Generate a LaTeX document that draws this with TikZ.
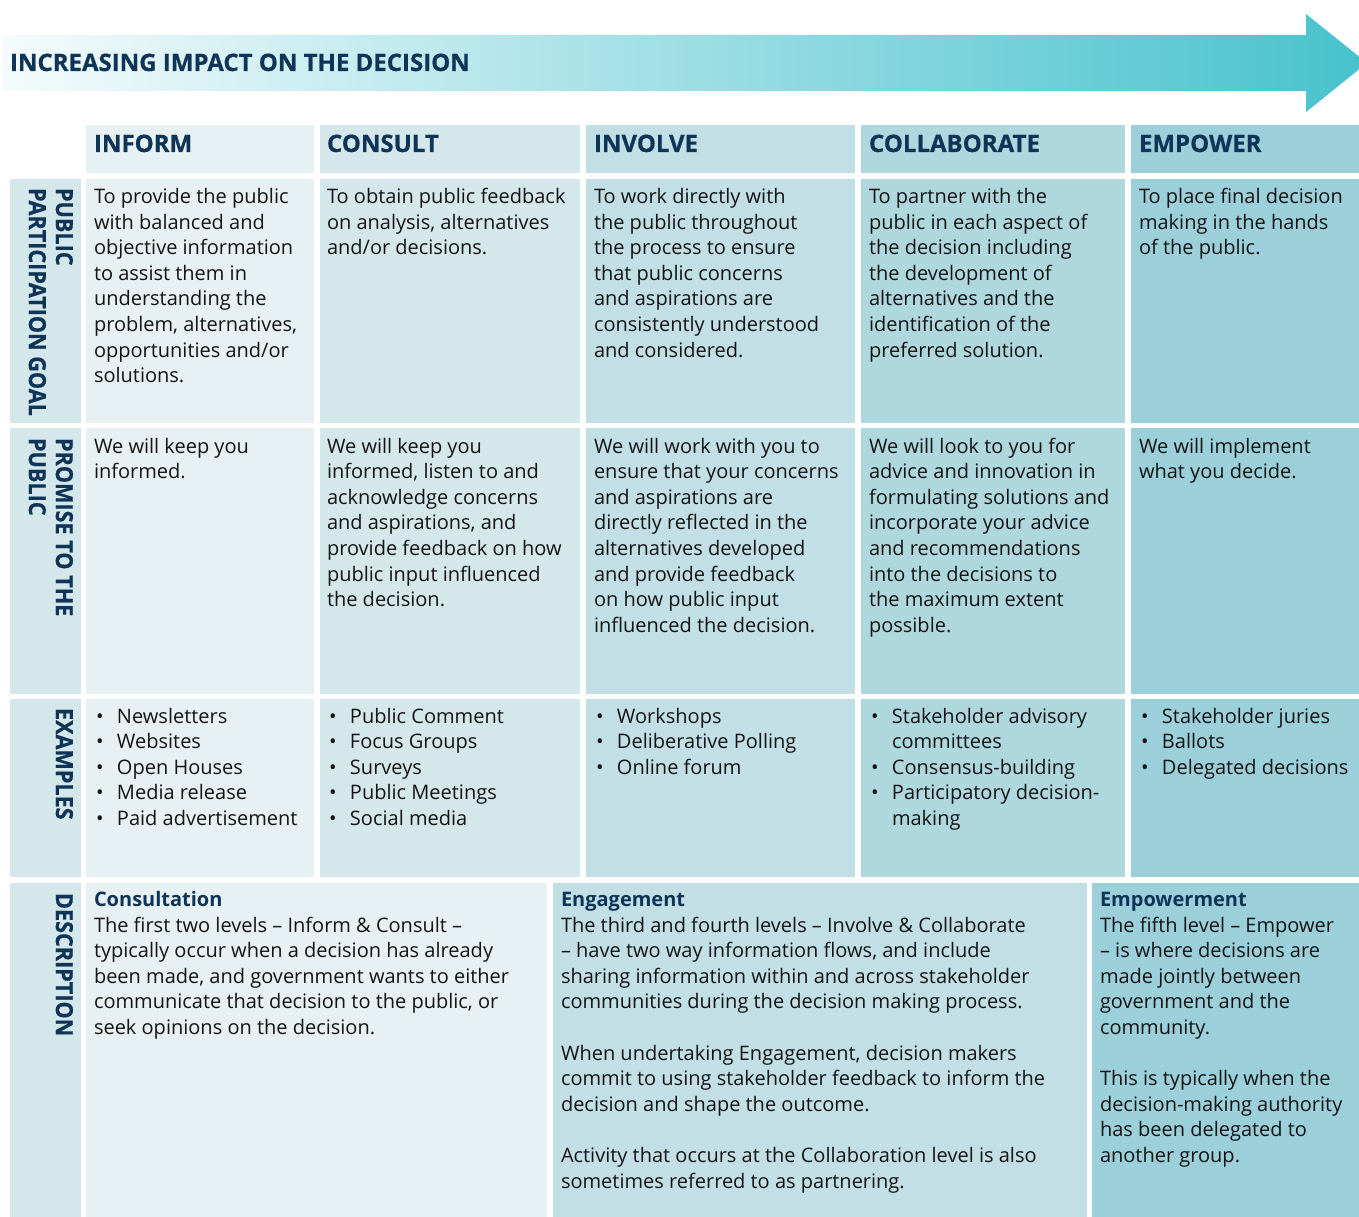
\documentclass[tikz,border=0pt]{standalone}
\usepackage{fontspec}
\setmainfont{Open Sans}
\newfontfamily\hdfont{Open Sans}[BoldFeatures={FakeBold=0.6}]
\newfontfamily\labfont{Open Sans}[FakeStretch=0.92, BoldFeatures={FakeBold=0.6}]
\definecolor{navy}{HTML}{0E3457}
\definecolor{bodyc}{HTML}{141414}
\definecolor{cA}{HTML}{E7F1F3}
\definecolor{cB}{HTML}{D4E7EB}
\definecolor{cC}{HTML}{C2DFE5}
\definecolor{cD}{HTML}{AFD7DE}
\definecolor{cE}{HTML}{9BCFD9}
\definecolor{arrL}{HTML}{F4FBFC}
\definecolor{arrR}{HTML}{47C2CD}
\newcommand\celltext[1]{\parbox[t]{500pt}{\raggedright #1}}
\newcommand\bitem[1]{\makebox[23pt][l]{\hspace{2pt}•}#1}
\newcommand\bcont[1]{\hspace*{23pt}#1}
\tikzset{
  cellbox/.style={draw=none, inner sep=0, outer sep=0, anchor=north west},
  txt/.style={anchor=base west, inner sep=0, outer sep=0, text=bodyc,
    font=\fontsize{20}{25.6}\selectfont},
  hd/.style={anchor=base west, inner sep=0, outer sep=0, text=navy,
    font=\hdfont\bfseries\fontsize{24}{27}\selectfont},
  lab/.style={rotate=-90, anchor=north west, align=left, inner sep=0, outer sep=0,
    text=navy, font=\labfont\bfseries\fontsize{23.5}{27}\selectfont},
}
\begin{document}
\begin{tikzpicture}[x=1pt,y=-1pt]
\useasboundingbox (0,0) rectangle (1359,1217);
\fill[white] (0,0) rectangle (1359,1217);
% arrow
\shade[left color=arrL, right color=arrR] (3,35) -- (1306,35) -- (1306,14) -- (1367,63)
  -- (1306,112) -- (1306,91) -- (3,91) -- cycle;
\node[hd, font=\hdfont\bfseries\fontsize{24}{30}\selectfont] (title) at (10,71) {INCREASING IMPACT ON THE DECISION};

% header row
\node[cellbox, fill=cA, minimum width=228, minimum height=48] (hA) at (86,125) {};
\node[cellbox, fill=cB, minimum width=260, minimum height=48] (hB) at (320,125) {};
\node[cellbox, fill=cC, minimum width=269, minimum height=48] (hC) at (586,125) {};
\node[cellbox, fill=cD, minimum width=264, minimum height=48] (hD) at (861,125) {};
\node[cellbox, fill=cE, minimum width=228, minimum height=48] (hE) at (1131,125) {};
\node[hd] (tA) at (94,152) {INFORM};
\node[hd] (tB) at (327,152) {CONSULT};
\node[hd] (tC) at (594,152) {INVOLVE};
\node[hd] (tD) at (869,152) {COLLABORATE};
\node[hd] (tE) at (1139,152) {EMPOWER};

% goal row
\node[cellbox, fill=cB, minimum width=71, minimum height=244] (gL) at (10,179) {};
\node[cellbox, fill=cA, minimum width=228, minimum height=244] (gA) at (86,179) {};
\node[cellbox, fill=cB, minimum width=260, minimum height=244] (gB) at (320,179) {};
\node[cellbox, fill=cC, minimum width=269, minimum height=244] (gC) at (586,179) {};
\node[cellbox, fill=cD, minimum width=264, minimum height=244] (gD) at (861,179) {};
\node[cellbox, fill=cE, minimum width=228, minimum height=244] (gE) at (1131,179) {};
\node[lab] (lG) at (73,188) {PUBLIC\\PARTICIPATION GOAL};
\node[txt] (gtA) at (94,203.5) {\celltext{To provide the public\\with balanced and\\objective information\\to assist them in\\understanding the\\problem, alternatives,\\opportunities and/or\\solutions.}};
\node[txt] (gtB) at (327,203.5) {\celltext{To obtain public feedback\\on analysis, alternatives\\and/or decisions.}};
\node[txt] (gtC) at (594,203.5) {\celltext{To work directly with\\the public throughout\\the process to ensure\\that public concerns\\and aspirations are\\consistently understood\\and considered.}};
\node[txt] (gtD) at (869,203.5) {\celltext{To partner with the\\public in each aspect of\\the decision including\\the development of\\alternatives and the\\identification of the\\preferred solution.}};
\node[txt] (gtE) at (1139,203.5) {\celltext{To place final decision\\making in the hands\\of the public.}};

% promise row
\node[cellbox, fill=cB, minimum width=71, minimum height=266] (pL) at (10,428) {};
\node[cellbox, fill=cA, minimum width=228, minimum height=266] (pA) at (86,428) {};
\node[cellbox, fill=cB, minimum width=260, minimum height=266] (pB) at (320,428) {};
\node[cellbox, fill=cC, minimum width=269, minimum height=266] (pC) at (586,428) {};
\node[cellbox, fill=cD, minimum width=264, minimum height=266] (pD) at (861,428) {};
\node[cellbox, fill=cE, minimum width=228, minimum height=266] (pE) at (1131,428) {};
\node[lab] (lP) at (73,438) {PROMISE TO THE\\PUBLIC};
\node[txt] (ptA) at (94,453) {\celltext{We will keep you\\informed.}};
\node[txt] (ptB) at (327,453) {\celltext{We will keep you\\informed, listen to and\\acknowledge concerns\\and aspirations, and\\provide feedback on how\\public input influenced\\the decision.}};
\node[txt] (ptC) at (594,453) {\celltext{We will work with you to\\ensure that your concerns\\and aspirations are\\directly reflected in the\\alternatives developed\\and provide feedback\\on how public input\\influenced the decision.}};
\node[txt] (ptD) at (869,453) {\celltext{We will look to you for\\advice and innovation in\\formulating solutions and\\incorporate your advice\\and recommendations\\into the decisions to\\the maximum extent\\possible.}};
\node[txt] (ptE) at (1139,453) {\celltext{We will implement\\what you decide.}};

% examples row
\node[cellbox, fill=cB, minimum width=71, minimum height=178] (eL) at (10,699) {};
\node[cellbox, fill=cA, minimum width=228, minimum height=178] (eA) at (86,699) {};
\node[cellbox, fill=cB, minimum width=260, minimum height=178] (eB) at (320,699) {};
\node[cellbox, fill=cC, minimum width=269, minimum height=178] (eC) at (586,699) {};
\node[cellbox, fill=cD, minimum width=264, minimum height=178] (eD) at (861,699) {};
\node[cellbox, fill=cE, minimum width=228, minimum height=178] (eE) at (1131,699) {};
\node[lab] (lE) at (73,708) {EXAMPLES};
\node[txt] (etA) at (94,723) {\celltext{\bitem{Newsletters}\\\bitem{Websites}\\\bitem{Open Houses}\\\bitem{Media release}\\\bitem{Paid advertisement}}};
\node[txt] (etB) at (327,723) {\celltext{\bitem{Public Comment}\\\bitem{Focus Groups}\\\bitem{Surveys}\\\bitem{Public Meetings}\\\bitem{Social media}}};
\node[txt] (etC) at (594,723) {\celltext{\bitem{Workshops}\\\bitem{Deliberative Polling}\\\bitem{Online forum}}};
\node[txt] (etD) at (869,723) {\celltext{\bitem{Stakeholder advisory}\\\bcont{committees}\\\bitem{Consensus-building}\\\bitem{Participatory decision-}\\\bcont{making}}};
\node[txt] (etE) at (1139,723) {\celltext{\bitem{Stakeholder juries}\\\bitem{Ballots}\\\bitem{Delegated decisions}}};

% description row
\node[cellbox, fill=cB, minimum width=71, minimum height=340] (dL) at (10,883) {};
\node[cellbox, fill=cA, minimum width=461, minimum height=340] (dA) at (86,883) {};
\node[cellbox, fill=cC, minimum width=534, minimum height=340] (dB) at (553,883) {};
\node[cellbox, fill=cE, minimum width=267, minimum height=340] (dC) at (1092,883) {};
\node[lab] (lD) at (73,893) {DESCRIPTION};
\node[txt] (dtA) at (94,906.5) {\celltext{\textcolor{navy}{\bfseries Consultation}\\The first two levels – Inform \& Consult –\\typically occur when a decision has already\\been made, and government wants to either\\communicate that decision to the public, or\\seek opinions on the decision.}};
\node[txt] (dtB) at (561,906.5) {\celltext{\textcolor{navy}{\bfseries Engagement}\\The third and fourth levels – Involve \& Collaborate\\– have two way information flows, and include\\sharing information within and across stakeholder\\communities during the decision making process.\\[25.6pt]When undertaking Engagement, decision makers\\commit to using stakeholder feedback to inform the\\decision and shape the outcome.\\[25.6pt]Activity that occurs at the Collaboration level is also\\sometimes referred to as partnering.}};
\node[txt] (dtC) at (1100,906.5) {\celltext{\textcolor{navy}{\bfseries Empowerment}\\The fifth level – Empower\\– is where decisions are\\made jointly between\\government and the\\community.\\[25.6pt]This is typically when the\\decision-making authority\\has been delegated to\\another group.}};
\end{tikzpicture}
\end{document}
